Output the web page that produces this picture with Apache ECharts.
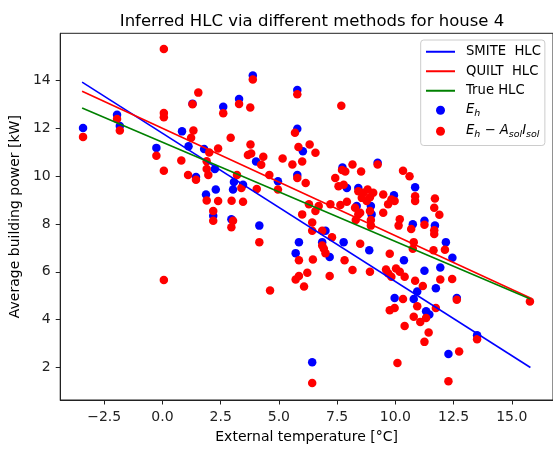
<!DOCTYPE html>
<html>
<head>
<meta charset="utf-8">
<script src="https://cdn.jsdelivr.net/npm/echarts@6/dist/echarts.min.js"></script>
<style>
  html, body { margin: 0; padding: 0; background: #fff; }
  #main { width: 553px; height: 449px; }
</style>
</head>
<body>
<div id="main"></div>
<script>
// measured points [temperature, power]
var ehPoints = [
  [-3.41, 12.01], [-1.95, 12.56], [-1.83, 12.09], [1.29, 13.03], [2.61, 12.9],
  [0.84, 11.87], [-0.26, 11.18], [1.12, 11.25], [1.44, 9.96], [1.79, 11.13],
  [2.25, 10.3], [1.87, 9.23], [2.29, 9.44], [3.88, 14.21], [3.29, 13.22],
  [5.79, 13.6], [4.02, 10.61], [6.03, 11.04], [5.79, 11.98], [4.96, 9.78],
  [5.79, 10.05], [3.07, 9.75], [3.03, 9.44], [3.46, 9.64], [2.96, 8.2],
  [7.0, 7.72], [4.16, 7.93], [5.86, 7.24], [6.86, 7.24], [7.78, 7.24],
  [7.73, 10.36], [9.24, 10.56], [7.92, 9.5], [8.41, 9.5], [8.34, 8.75],
  [8.95, 8.75], [8.98, 8.4], [9.94, 9.2], [10.85, 9.53], [10.75, 7.99],
  [11.25, 8.13], [11.7, 7.93], [8.88, 6.9], [10.37, 6.48], [12.17, 7.24],
  [12.45, 6.59], [11.25, 6.04], [11.93, 6.18], [11.74, 5.31], [10.94, 5.18],
  [9.97, 4.9], [10.79, 4.86], [12.64, 4.9], [11.32, 4.35], [11.46, 4.21],
  [13.51, 3.35], [12.28, 2.56], [5.72, 6.78], [7.18, 6.62], [6.43, 2.22],
  [2.18, 8.34]
];

var solPoints = [
  [0.06, 15.31], [-3.41, 11.64], [-1.95, 12.39], [-1.83, 11.91], [0.06, 12.64],
  [0.06, 12.46], [1.54, 13.49], [1.29, 13.0], [2.61, 12.63], [1.33, 11.91],
  [1.23, 11.6], [-0.26, 10.85], [0.81, 10.65], [0.06, 10.22], [1.1, 10.05],
  [1.44, 9.85], [2.01, 10.99], [2.39, 11.15], [1.9, 10.62], [1.9, 10.3],
  [1.97, 10.05], [2.93, 11.6], [1.9, 8.98], [2.39, 8.96], [2.18, 8.54],
  [2.97, 8.97], [3.88, 14.04], [3.29, 13.01], [3.77, 12.87], [5.79, 13.42],
  [7.68, 12.94], [2.18, 8.13], [3.03, 8.13], [2.96, 7.86], [5.69, 11.81],
  [3.78, 11.32], [3.81, 10.95], [3.67, 10.88], [4.24, 10.47], [4.33, 10.81],
  [5.16, 10.74], [5.58, 10.49], [5.84, 11.22], [6.32, 11.32], [6.57, 10.98],
  [6.0, 10.61], [7.71, 10.26], [4.59, 10.05], [4.96, 9.44], [5.79, 9.92],
  [6.15, 9.71], [3.2, 10.05], [3.39, 9.5], [4.05, 9.46], [7.42, 9.92],
  [7.56, 9.58], [7.78, 9.64], [3.46, 8.93], [6.29, 8.82], [6.57, 8.54],
  [6.71, 8.75], [7.21, 8.82], [6.0, 8.4], [6.43, 8.06], [6.86, 7.72],
  [6.43, 7.72], [7.28, 7.44], [4.16, 7.24], [6.86, 7.1], [7.85, 10.19],
  [8.16, 10.49], [8.53, 10.19], [9.24, 10.49], [7.64, 8.79], [7.92, 8.93],
  [8.41, 9.37], [8.63, 9.3], [8.81, 9.44], [9.05, 9.3], [8.91, 9.12],
  [8.77, 8.96], [8.56, 9.09], [8.27, 8.68], [8.49, 8.47], [8.91, 8.54],
  [8.95, 8.16], [8.95, 7.93], [8.41, 8.4], [8.3, 8.16], [9.48, 9.23],
  [9.83, 9.02], [9.97, 8.96], [9.69, 8.82], [9.48, 8.47], [10.33, 10.22],
  [10.61, 9.99], [10.85, 9.16], [10.85, 8.96], [11.7, 9.06], [11.67, 8.68],
  [11.89, 8.38], [10.19, 8.2], [10.14, 7.93], [10.68, 7.79], [11.25, 7.97],
  [11.67, 7.74], [11.67, 7.58], [8.49, 7.17], [7.82, 6.48], [8.16, 6.07],
  [8.91, 6.0], [9.76, 6.75], [10.79, 7.24], [10.75, 6.96], [11.64, 6.9],
  [12.13, 6.92], [9.6, 6.1], [10.03, 6.14], [10.19, 6.0], [9.7, 5.93],
  [10.4, 5.79], [9.83, 5.79], [10.85, 5.63], [11.18, 5.41], [11.93, 5.68],
  [12.44, 5.7], [10.33, 4.86], [10.94, 4.56], [9.76, 4.39], [9.97, 4.49],
  [12.64, 4.83], [11.74, 4.49], [10.79, 4.12], [11.07, 3.9], [11.32, 4.07],
  [10.4, 3.73], [11.43, 3.46], [11.25, 3.07], [13.51, 3.18], [15.78, 4.76],
  [12.74, 2.67], [10.09, 2.19], [12.28, 1.42], [5.86, 6.48], [6.46, 6.51],
  [6.93, 6.96], [7.0, 6.78], [6.22, 5.96], [5.86, 5.82], [5.72, 5.68],
  [6.08, 5.38], [7.18, 5.82], [4.62, 5.22], [6.43, 1.35], [0.06, 5.66]
];

// fitted lines, evaluated at the ends of the temperature range
var lineTemp = [-3.45, 15.8];
var smitePower = [13.93, 2.0];
var quiltPower = [13.55, 4.9];
var truePower = [12.85, 4.86];

var xTicks = [-2.5, 0, 2.5, 5, 7.5, 10, 12.5, 15];
var yTicks = [2, 4, 6, 8, 10, 12, 14];

var font = 'DejaVu Sans';
var fs = 14;
var lfs = 13.2;

function pairs(xs, ys) {
  return xs.map(function (x, i) { return [x, ys[i]]; });
}

var myChart = echarts.init(document.getElementById('main'), null, { renderer: 'canvas' });

var option = {
  animation: false,
  title: {
    text: 'Inferred HLC via different methods for house 4',
    left: 307,
    top: 8,
    textAlign: 'center',
    textStyle: { fontFamily: font, fontSize: 16.5, fontWeight: 'normal', color: '#000' }
  },
  grid: {
    left: 58.7, top: 33.3, bottom: 44, right: -3.6,
    show: true, borderColor: '#222', borderWidth: 1, backgroundColor: '#fff'
  },
  legend: {
    orient: 'vertical',
    left: 420.7, top: 40,
    padding: [5, 4, 6, 4.3],
    itemWidth: 29, itemHeight: 9, itemGap: 6,
    backgroundColor: 'rgba(255,255,255,0.8)',
    borderColor: '#cccccc', borderWidth: 1, borderRadius: 3,
    textStyle: {
      fontFamily: font, fontSize: lfs, color: '#000', lineHeight: 13.5, padding: [0, 0, 0, 6],
      rich: {
        i: { fontFamily: font, fontSize: lfs, fontStyle: 'italic', color: '#000', lineHeight: 13.5, verticalAlign: 'top' },
        s: { fontFamily: font, fontSize: 9.5, fontStyle: 'italic', color: '#000', lineHeight: 8.5, padding: [5, 0, 0, 0], verticalAlign: 'top' },
        n: { fontFamily: font, fontSize: lfs, color: '#000', lineHeight: 13.5, verticalAlign: 'top' }
      }
    },
    formatter: function (name) {
      if (name === 'Eh') return '{i|E}{s|h}';
      if (name === 'Eh-AsolIsol') return '{i|E}{s|h}{n| \u2212 }{i|A}{s|sol}{i|I}{s|sol}';
      return name;
    },
    data: [
      { name: 'SMITE  HLC', itemStyle: { opacity: 0 } },
      { name: 'QUILT  HLC', itemStyle: { opacity: 0 } },
      { name: 'True HLC', itemStyle: { opacity: 0 } },
      { name: 'Eh', icon: 'circle' },
      { name: 'Eh-AsolIsol', icon: 'circle' }
    ]
  },
  xAxis: {
    type: 'value',
    min: -4.39, max: 16.77,
    name: 'External temperature [\u00b0C]',
    nameLocation: 'middle', nameGap: 30,
    nameTextStyle: { fontFamily: font, fontSize: fs, color: '#000' },
    axisLine: { show: true, onZero: false, lineStyle: { color: '#222', width: 1 } },
    axisTick: { show: true, inside: false, length: 4.5, customValues: xTicks, lineStyle: { color: '#222' } },
    axisLabel: {
      customValues: xTicks, margin: 10,
      fontFamily: font, fontSize: fs, color: '#222',
      formatter: function (v) { return (v < 0 ? '\u2212' : '') + Math.abs(v).toFixed(1); }
    },
    splitLine: { show: false }
  },
  yAxis: {
    type: 'value',
    min: 0.64, max: 15.97,
    name: 'Average building power [kW]',
    nameLocation: 'middle', nameGap: 35,
    nameTextStyle: { fontFamily: font, fontSize: fs, color: '#000' },
    axisLine: { show: true, onZero: false, lineStyle: { color: '#222', width: 1 } },
    axisTick: { show: true, inside: false, length: 4.5, customValues: yTicks, lineStyle: { color: '#222' } },
    axisLabel: {
      customValues: yTicks, margin: 9.5,
      fontFamily: font, fontSize: fs, color: '#222'
    },
    splitLine: { show: false }
  },
  series: [
    {
      name: 'SMITE  HLC', type: 'line', symbol: 'none', z: 5,
      data: pairs(lineTemp, smitePower),
      lineStyle: { color: '#0000ff', width: 1.6 }, itemStyle: { color: '#0000ff' }
    },
    {
      name: 'QUILT  HLC', type: 'line', symbol: 'none', z: 5,
      data: pairs(lineTemp, quiltPower),
      lineStyle: { color: '#ff0000', width: 1.6 }, itemStyle: { color: '#ff0000' }
    },
    {
      name: 'True HLC', type: 'line', symbol: 'none', z: 5,
      data: pairs(lineTemp, truePower),
      lineStyle: { color: '#008000', width: 1.6 }, itemStyle: { color: '#008000' }
    },
    {
      name: 'Eh', type: 'scatter', symbol: 'circle', symbolSize: 8.5, z: 2,
      data: ehPoints, itemStyle: { color: '#0000ff', opacity: 1 }
    },
    {
      name: 'Eh-AsolIsol', type: 'scatter', symbol: 'circle', symbolSize: 8.5, z: 3,
      data: solPoints, itemStyle: { color: '#ff0000', opacity: 1 }
    }
  ]
};

myChart.setOption(option);
</script>
</body>
</html>
